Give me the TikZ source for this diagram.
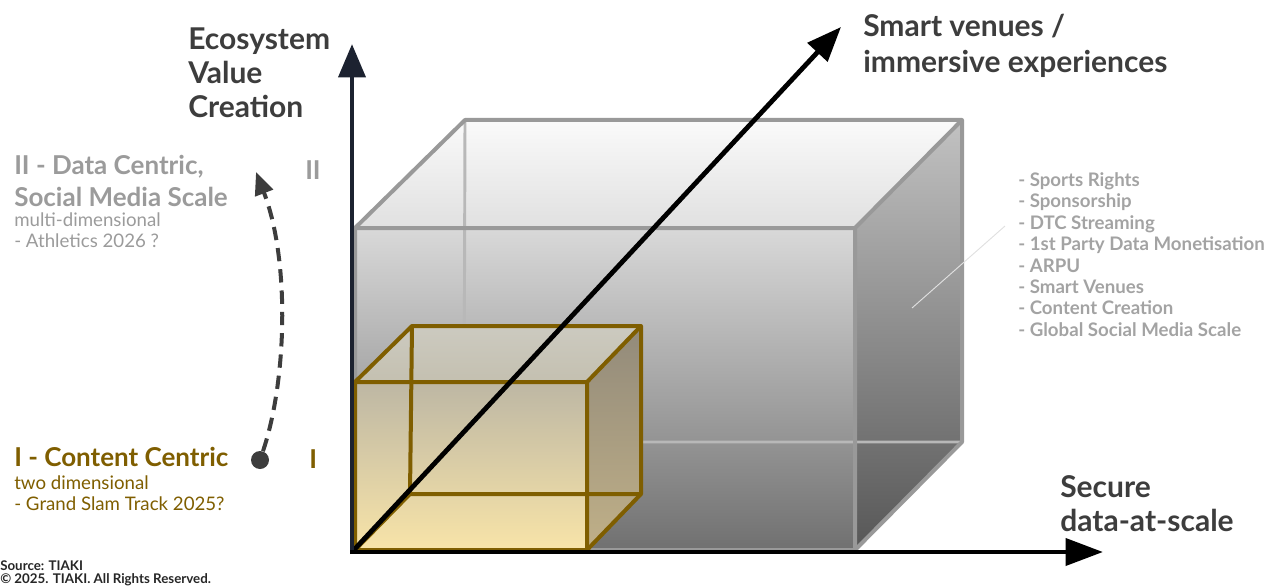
\documentclass[tikz,border=0pt]{standalone}
\usepackage{fontspec}
\setmainfont{Lato}
\usetikzlibrary{arrows.meta, positioning, calc}
\definecolor{inkdark}{HTML}{3D3D3D}
\definecolor{inkgray}{HTML}{9B9B9B}
\definecolor{listgray}{HTML}{A3A3A3}
\definecolor{gold}{HTML}{7F5E00}
\definecolor{axisnavy}{HTML}{1C2230}
\tikzset{
  axis/.style={line width=3.6pt, draw=black, -{Triangle[length=26pt,width=20pt]}},
  bigedge/.style={line width=3pt, draw=black!40, line join=round},
  hiddenedge/.style={line width=2.2pt, draw=black!28},
  smalledge/.style={line width=3pt, draw=gold, line join=round},
  axislabel/.style={
    anchor=north west, inner sep=0pt, align=left, text=inkdark,
    font=\fontsize{22.5}{25.5}\selectfont\bfseries
  },
  stagehead/.style={
    anchor=north west, inner sep=0pt, align=left,
    font=\fontsize{19.5}{24}\selectfont\bfseries
  },
  stagesub/.style={
    anchor=north west, inner sep=0pt, align=left,
    font=\fontsize{14}{15.8}\selectfont
  },
  revitem/.style={
    anchor=north west, inner sep=0pt, align=left, text=listgray,
    font=\fontsize{14}{16.1}\selectfont\bfseries
  },
  dot/.style={circle, fill=inkdark, minimum size=13.5pt, inner sep=0pt},
  flowarrow/.style={line width=3pt, draw=inkdark, dash pattern=on 10pt off 6pt,
    -{Triangle[length=17pt,width=14pt]}},
  pointer/.style={line width=0.7pt, draw=black!12}
}

\begin{document}
\begin{tikzpicture}[x=0.75pt, y=-0.75pt]
  \useasboundingbox (0,0) rectangle (1270,588);

  % axes anchors
  \coordinate (O) at (352,552);
  \coordinate (ytip) at (352,44);
  \coordinate (xtip) at (1103,552);
  \coordinate (ztip) at (841,27);

  % big box corners (front f, back b)
  \coordinate (fbl) at (355,550); \coordinate (fbr) at (855,550);
  \coordinate (ftr) at (855,228); \coordinate (ftl) at (355,228);
  \coordinate (bbl) at (464,442); \coordinate (bbr) at (962,442);
  \coordinate (btr) at (962,120); \coordinate (btl) at (465,120);

  \shade[top color=black!2, bottom color=black!12] (ftl) -- (btl) -- (btr) -- (ftr) -- cycle;
  \shade[top color=black!15, bottom color=black!56] (ftl) -- (ftr) -- (fbr) -- (fbl) -- cycle;
  \shade[top color=black!24, bottom color=black!66] (ftr) -- (btr) -- (bbr) -- (fbr) -- cycle;
  \draw[hiddenedge] (btl) -- (bbl) -- (bbr);
  \draw[bigedge] (fbl) -- (ftl) -- (btl) -- (btr) -- (bbr) -- (fbr) -- cycle;
  \draw[bigedge] (ftl) -- (ftr) -- (fbr) (ftr) -- (btr);

  % small box corners
  \coordinate (sfbl) at (355,550); \coordinate (sfbr) at (587,550);
  \coordinate (sftr) at (587,382); \coordinate (sftl) at (355,382);
  \coordinate (sbbl) at (410,494); \coordinate (sbbr) at (641,494);
  \coordinate (sbtr) at (641,326); \coordinate (sbtl) at (412,326);

  \shade[top color={rgb,255:red,204;green,202;blue,192}, bottom color={rgb,255:red,196;green,192;blue,176}]
    (sftl) -- (sbtl) -- (sbtr) -- (sftr) -- cycle;
  \shade[top color={rgb,255:red,189;green,183;blue,164}, bottom color={rgb,255:red,248;green,228;blue,168}]
    (sftl) -- (sftr) -- (sfbr) -- (sfbl) -- cycle;
  \shade[top color={rgb,255:red,146;green,138;blue,122}, bottom color={rgb,255:red,192;green,176;blue,136}]
    (sftr) -- (sbtr) -- (sbbr) -- (sfbr) -- cycle;
  \draw[smalledge] (sfbl) -- (sftl) -- (sbtl) -- (sbtr) -- (sbbr) -- (sfbr) -- cycle;
  \draw[smalledge] (sftl) -- (sftr) -- (sfbr) (sftr) -- (sbtr);
  \draw[smalledge] (sbtl) -- (sbbl) -- (sbbr) (sbbl) -- (sfbl);

  \draw[pointer] (912,308) coordinate (ptrA) -- (1005,226) coordinate (ptrB);

  % axes
  \draw[axis] (O) -- (ztip);
  \draw[axis, draw=axisnavy, -{Triangle[length=25pt,width=20pt]}] ($(O)+(0,2)$) -- (ytip);
  \draw[axis, -{Triangle[length=28pt,width=20pt]}] ($(O)+(-2,0)$) -- (xtip);

  % axis labels
  \node[axislabel] (ecoval) at (188,28) {Ecosystem\\Value\\Creation};
  \node[axislabel, font=\fontsize{22.5}{27}\selectfont\bfseries] (smartven) at (863,14)
    {Smart venues /\\immersive experiences};
  \node[axislabel] (securedata) at (1060,475) {Secure\\data-at-scale};

  % stages
  \node[stagehead, text=inkgray] (dchead) at (14,155) {II - Data Centric,\\Social Media Scale};
  \node[stagesub, text=inkgray, below=4pt of dchead.south west, anchor=north west]
    (dcsub) {multi-dimensional\\- Athletics 2026 ?};
  \node[stagehead, text=inkgray] (markii) at (305,160) {II};

  \node[stagehead, text=gold] (cchead) at (14,447) {I - Content Centric};
  \node[stagesub, text=gold, below=6pt of cchead.south west, anchor=north west]
    (ccsub) {two dimensional\\- Grand Slam Track 2025?};
  \node[stagehead, text=gold] (marki) at (309,449) {I};

  \node[dot] (startdot) at (260,460) {};
  \coordinate (nextstage) at (256,172);
  \draw[flowarrow] (startdot) .. controls (287,380) and (290,260) .. (nextstage);

  % revenue streams
  \node[revitem] (revlist) at (1018,172) {- Sports Rights\\- Sponsorship\\- DTC Streaming\\
    - 1st Party Data Monetisation\\- ARPU\\- Smart Venues\\- Content Creation\\
    - Global Social Media Scale};

  \node[anchor=north west, inner sep=0pt, align=left, text=black!85,
    font=\fontsize{10}{10}\selectfont\bfseries] (srcnote) at (0,560)
    {Source: TIAKI\\© 2025. TIAKI. All Rights Reserved.};
\end{tikzpicture}
\end{document}
